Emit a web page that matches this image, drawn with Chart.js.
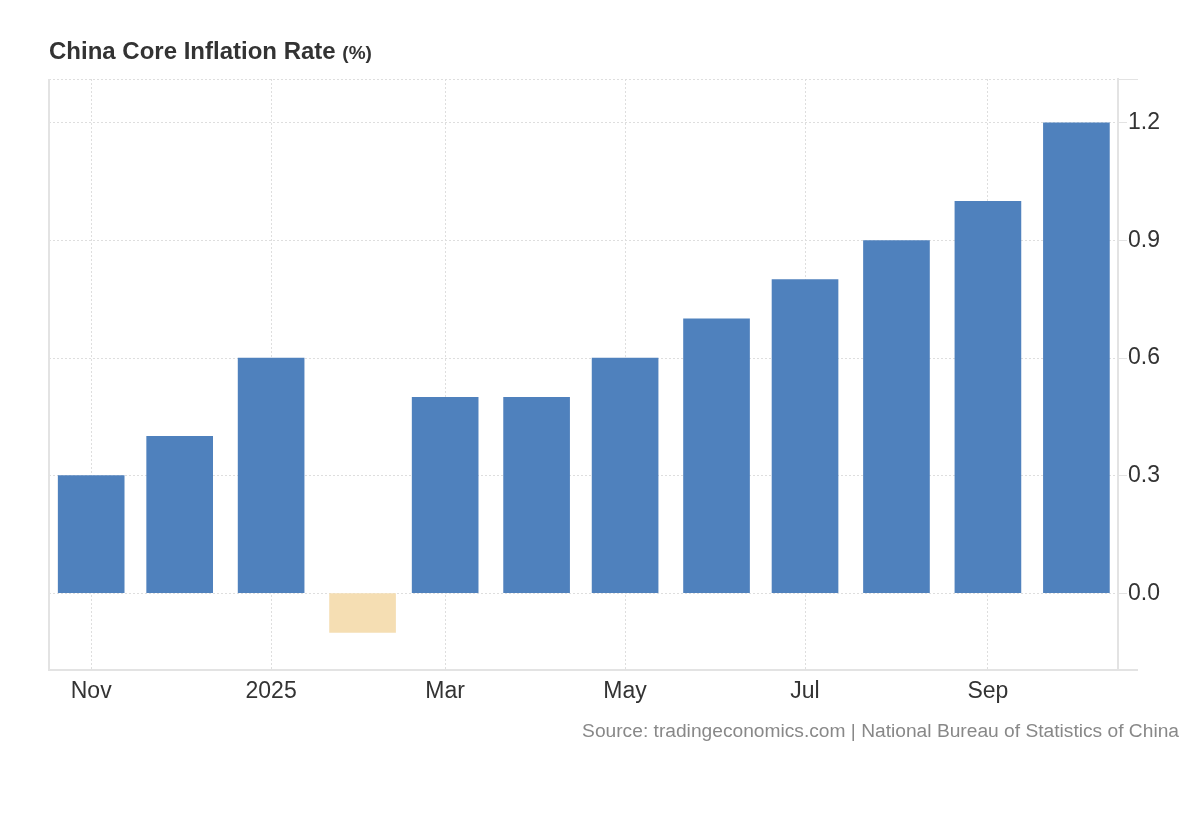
<!DOCTYPE html>
<html lang="en">
<head>
    <meta charset="UTF-8">
    <title>China Core Inflation Rate</title>
    <style>
        html, body {
            margin: 0;
            padding: 0;
            background: #fff;
        }
        body {
            width: 1200px;
            height: 820px;
            position: relative;
            overflow: hidden;
            font-family: "Liberation Sans", Arial, sans-serif;
        }
        .title {
            position: absolute;
            left: 49px;
            top: 39px;
            line-height: 24px;
            font-size: 24px;
            font-weight: bold;
            color: #333;
            white-space: nowrap;
        }
        .title small {
            font-size: 19px;
        }
        .source {
            position: absolute;
            right: 21px;
            top: 720px;
            line-height: 22px;
            font-size: 19.2px;
            color: #888;
            white-space: nowrap;
        }
        #chart {
            position: absolute;
            left: 0;
            top: 0;
        }
    </style>
</head>
<body>
    <canvas id="chart" width="1200" height="820"></canvas>
    <div class="title">China Core Inflation Rate <small>(%)</small></div>
    <div class="source">Source: tradingeconomics.com | National Bureau of Statistics of China</div>

    <script src="https://cdn.jsdelivr.net/npm/chart.js"></script>
    <script>
        // monthly readings, Nov 2024 - Oct 2025
        const months = ['2024-11-01', '2024-12-01', '2025-01-01', '2025-02-01', '2025-03-01', '2025-04-01',
                        '2025-05-01', '2025-06-01', '2025-07-01', '2025-08-01', '2025-09-01', '2025-10-01'];
        const coreInflation = [0.3, 0.4, 0.6, -0.1, 0.5, 0.5, 0.6, 0.7, 0.8, 0.9, 1.0, 1.2];

        const xTickDates = ['2024-11-01', '2025-01-01', '2025-03-01', '2025-05-01', '2025-07-01', '2025-09-01'];
        const xTickLabels = ['Nov', '2025', 'Mar', 'May', 'Jul', 'Sep'];
        const yTicks = [0, 0.3, 0.6, 0.9, 1.2];

        // x axis is days since the first month
        const start = Date.UTC(2024, 10, 1);
        function toDay(s) {
            const p = s.split('-').map(Number);
            return Math.round((Date.UTC(p[0], p[1] - 1, p[2]) - start) / 86400000);
        }

        const xMin = -14.3, xMax = 348.1;
        const yMin = -0.196, yMax = 1.312;

        const blue = '#4f81bd';
        const wheat = '#f5deb3';
        const gridColor = '#dedede';
        const borderColor = '#e3e3e3';
        const tickFont = { family: '"Liberation Sans", Arial, sans-serif', size: 23 };

        // left frame line and the little bits poking past the right axis
        const framePlugin = {
            id: 'frame',
            afterDraw(chart) {
                const { ctx, chartArea: a } = chart;
                ctx.save();
                ctx.strokeStyle = borderColor;
                ctx.lineWidth = 2;
                ctx.beginPath();
                ctx.moveTo(a.left, a.top);
                ctx.lineTo(a.left, a.bottom + 1);
                ctx.moveTo(a.right, a.bottom);
                ctx.lineTo(a.right + 20, a.bottom);
                ctx.stroke();
                ctx.lineWidth = 1;
                ctx.beginPath();
                ctx.moveTo(a.right, a.top + 0.5);
                ctx.lineTo(a.right + 20, a.top + 0.5);
                ctx.stroke();
                ctx.restore();
            }
        };

        const ctx = document.getElementById('chart').getContext('2d');
        new Chart(ctx, {
            type: 'bar',
            data: {
                datasets: [{
                    data: months.map((m, i) => ({ x: toDay(m), y: coreInflation[i] })),
                    backgroundColor: coreInflation.map(v => v < 0 ? wheat : blue),
                    barThickness: 66,
                    borderWidth: 0
                }]
            },
            options: {
                responsive: false,
                animation: false,
                devicePixelRatio: 1,
                layout: {
                    padding: { left: 49, top: 79, right: 0, bottom: 0 }
                },
                plugins: {
                    legend: { display: false },
                    tooltip: { enabled: false },
                    title: { display: false }
                },
                scales: {
                    x: {
                        type: 'linear',
                        min: xMin,
                        max: xMax,
                        offset: false,
                        afterBuildTicks(scale) {
                            scale.ticks = xTickDates.map(d => ({ value: toDay(d) }));
                        },
                        afterFit(scale) {
                            scale.height = 150;
                        },
                        grid: {
                            color: gridColor,
                            lineWidth: 1,
                            offset: false,
                            drawTicks: false
                        },
                        border: {
                            display: true,
                            color: borderColor,
                            width: 2,
                            dash: [2, 2]
                        },
                        ticks: {
                            autoSkip: false,
                            maxRotation: 0,
                            padding: 8,
                            color: '#333',
                            font: tickFont,
                            callback(value, index) {
                                return xTickLabels[index];
                            }
                        }
                    },
                    y: {
                        position: 'right',
                        min: yMin,
                        max: yMax,
                        afterBuildTicks(scale) {
                            scale.ticks = yTicks.map(v => ({ value: v })).concat([{ value: yMax }]);
                        },
                        afterFit(scale) {
                            scale.width = 82;
                        },
                        grid: {
                            color: gridColor,
                            lineWidth: 1,
                            tickLength: 9,
                            tickColor: borderColor
                        },
                        border: {
                            display: true,
                            color: borderColor,
                            width: 2,
                            dash: [2, 2]
                        },
                        ticks: {
                            padding: 1,
                            color: '#333',
                            font: tickFont,
                            callback(value) {
                                return yTicks.includes(value) ? value.toFixed(1) : '';
                            }
                        }
                    }
                }
            },
            plugins: [framePlugin]
        });
    </script>
</body>
</html>
